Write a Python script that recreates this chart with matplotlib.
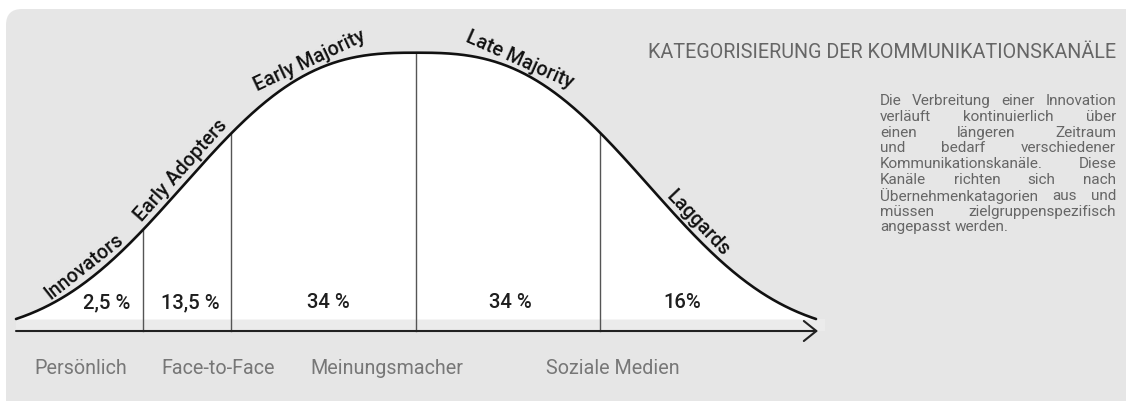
import numpy as np
import matplotlib
matplotlib.use("Agg")
import matplotlib.pyplot as plt
from matplotlib.patches import FancyBboxPatch, Rectangle

# ---------------- data ----------------
categories = ["Innovators", "Early Adopters", "Early Majority", "Late Majority", "Laggards"]
shares = [2.5, 13.5, 34, 34, 16]
share_labels = ["2,5 %", "13,5 %", "34 %", "34 %", "16%"]
channels = ["Persönlich", "Face-to-Face", "Meinungsmacher", "Soziale Medien"]
boundaries = [143, 231, 416, 600]          # category separators on the x axis
title = "KATEGORISIERUNG DER KOMMUNIKATIONSKANÄLE"
paragraph = [
    "Die Verbreitung einer Innovation",
    "verläuft kontinuierlich über",
    "einen längeren Zeitraum",
    "und bedarf verschiedener",
    "Kommunikationskanäle. Diese",
    "Kanäle richten sich nach",
    "Übernehmenkatagorien aus und",
    "müssen zielgruppenspezifisch",
    "angepasst werden.",
]

# ---------------- layout ----------------
W, H = 1126, 401
X0, X1, XC = 16, 816, 416        # curve support and centre
BASE, PEAK = 319, 52.7           # curve baseline / top (pixel rows)
AXIS_Y = 331
label_foot_x = [92, 190, 314, 515, 690]
label_offset = [8, 6, 5, 5, 5]
pct_label_x = [107, 190, 328, 510, 682]
channel_x = [81, 218, 387, 613]

FONT = ["Roboto", "DejaVu Sans"]
plt.rcParams["font.family"] = FONT


def curve_y(x):
    d = np.abs(np.asarray(x, dtype=float) - XC)
    a, p = 275.0, 2.75
    e0 = np.exp(-((X1 - XC) / a) ** p)
    h = (np.exp(-(d / a) ** p) - e0) / (1 - e0)
    return BASE - (BASE - PEAK) * h


fig = plt.figure(figsize=(W / 100, H / 100), dpi=100, facecolor="white")
ax = fig.add_axes([0, 0, 1, 1])
ax.set_xlim(0, W)
ax.set_ylim(H, 0)
ax.axis("off")

# background card
ax.add_patch(FancyBboxPatch((6, 9), W + 40, H + 40,
                            boxstyle="round,pad=0,rounding_size=16",
                            fc="#e6e6e6", ec="none", zorder=0))
# light band between curve base and axis
ax.add_patch(Rectangle((X0, BASE), 825 - X0, AXIS_Y - BASE,
                       fc="#ebebeb", ec="none", zorder=1))

xs = np.linspace(X0, X1, 801)
ys = curve_y(xs)
ax.fill_between(xs, ys, BASE, color="white", lw=0, zorder=1)
ax.plot(xs, ys, color="#111111", lw=1.9, solid_capstyle="round", zorder=4)

# separators
for b in boundaries:
    ax.plot([b, b], [curve_y(b), AXIS_Y], color="#555555", lw=1.0, zorder=3)

# axis with open arrow
ax.annotate("", xy=(818, AXIS_Y), xytext=(X0, AXIS_Y),
            arrowprops=dict(arrowstyle="->,head_length=0.45,head_width=0.36",
                            mutation_scale=20, lw=1.5, color="#222222",
                            shrinkA=0, shrinkB=0), zorder=5)

# share labels
for xl, lab in zip(pct_label_x, share_labels):
    ax.text(xl, 303, lab, ha="center", va="center", fontsize=14.6,
            color="#1e1e1e", fontweight="medium", zorder=6)

# category labels along the curve
for xf, off, cat in zip(label_foot_x, label_offset, categories):
    dx = 0.5
    s = (curve_y(xf + dx) - curve_y(xf - dx)) / (2 * dx)   # slope in pixel rows
    ang = np.degrees(np.arctan2(-s, 1))
    n = np.array([s, -1.0]) / np.hypot(s, 1.0)
    px, py = xf + n[0] * off, curve_y(xf) + n[1] * off
    ax.text(px, py, cat, rotation=ang, rotation_mode="anchor",
            ha="center", va="baseline", fontsize=14.2, color="#111111",
            fontweight="medium", zorder=6)

# channel labels
for xc, ch in zip(channel_x, channels):
    ax.text(xc, 368, ch, ha="center", va="center", fontsize=14.2,
            color="#777777", zorder=6)

# title
ax.text(1116, 53, title, ha="right", va="center", fontsize=14.2,
        color="#666666", zorder=6)

# justified paragraph
fig.canvas.draw()
r = fig.canvas.get_renderer()
left, right = 880, 1116
for i, line in enumerate(paragraph):
    y = 101 + i * 15.8
    words = line.split()
    texts = [ax.text(0, y, w, ha="left", va="center", fontsize=11.0,
                     color="#666666", zorder=6) for w in words]
    widths = [t.get_window_extent(r).width for t in texts]
    if i == len(paragraph) - 1 or len(words) == 1:
        gap = 3.5
    else:
        gap = max((right - left - sum(widths)) / (len(words) - 1), 1.5)
    xcur = left
    for t, wd in zip(texts, widths):
        t.set_x(xcur)
        xcur += wd + gap

fig.savefig("out.png", dpi=100, facecolor="white")
